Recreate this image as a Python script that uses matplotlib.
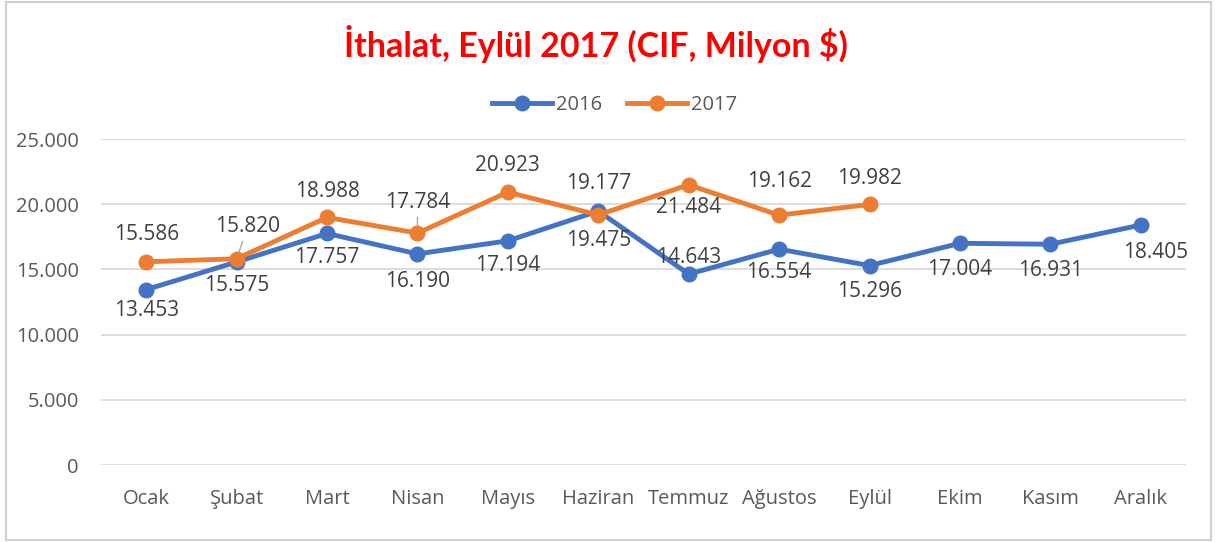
import matplotlib.pyplot as plt
from matplotlib.patches import Rectangle

# veri
aylar = ['Ocak', 'Şubat', 'Mart', 'Nisan', 'Mayıs', 'Haziran', 'Temmuz',
         'Ağustos', 'Eylül', 'Ekim', 'Kasım', 'Aralık']
ithalat_2016 = [13453, 15575, 17757, 16190, 17194, 19475, 14643, 16554,
                15296, 17004, 16931, 18405]
ithalat_2017 = [15586, 15820, 18988, 17784, 20923, 19177, 21484, 19162, 19982]
y_ticks = [0, 5000, 10000, 15000, 20000, 25000]

MAVI = '#4472C4'
TURUNCU = '#ED7D31'
METIN = '#404040'


def fmt(v):
    # Türkçe binlik ayırıcı
    return f'{v:,}'.replace(',', '.')


plt.rcParams['font.family'] = ['Open Sans', 'DejaVu Sans']

fig = plt.figure(figsize=(12.17, 5.42), dpi=100)
ax = fig.add_axes([0.083, 0.142, 0.8915, 0.6015])

# çerçeve
fig.patches.append(Rectangle((0.005, 0.004), 0.99, 0.992, transform=fig.transFigure,
                             fill=False, edgecolor='#D0D0D0', linewidth=1.5))

x16 = list(range(len(ithalat_2016)))
x17 = list(range(len(ithalat_2017)))
ax.plot(x16, ithalat_2016, color=MAVI, lw=3.5, marker='o', ms=10.5, label='2016', zorder=3)
ax.plot(x17, ithalat_2017, color=TURUNCU, lw=3.5, marker='o', ms=10.5, label='2017', zorder=4)

# etiket kaydırmaları (nokta cinsinden, dikey)
dy16 = [-15, -17, -17, -20, -18, -21, 12, -17, -19, -19, -19, -20]
dy17 = [20, 23, 19, 22, 19, 23, -16, 24, 19]
dx16 = {11: 11}
dx17 = {1: 8}
leader = {1, 3}

for i, v in enumerate(ithalat_2016):
    ax.annotate(fmt(v), (i, v), xytext=(dx16.get(i, 0), dy16[i]), textcoords='offset points',
                ha='center', va='center', fontsize=15, color=METIN, zorder=6)
for i, v in enumerate(ithalat_2017):
    arrow = dict(arrowstyle='-', color='#A6A6A6', lw=1, shrinkA=1, shrinkB=5) if i in leader else None
    ax.annotate(fmt(v), (i, v), xytext=(dx17.get(i, 0), dy17[i]), textcoords='offset points',
                ha='center', va='center', fontsize=15, color=METIN, zorder=6,
                arrowprops=arrow)

ax.set_xlim(-0.5, len(aylar) - 0.5)
ax.set_ylim(0, 25000)
ax.set_xticks(x16)
ax.set_xticklabels(aylar)
ax.set_yticks(y_ticks)
ax.set_yticklabels([fmt(t) for t in y_ticks])
ax.tick_params(axis='both', length=0, labelsize=14.5, colors='#595959')
ax.tick_params(axis='x', pad=17)
ax.tick_params(axis='y', pad=16)
ax.grid(axis='y', color='#D9D9D9', lw=1.3)
ax.set_axisbelow(True)
for s in ax.spines.values():
    s.set_visible(False)

fig.text(0.49, 0.918, 'İthalat, Eylül 2017 (CIF, Milyon $)', ha='center', va='center',
         fontsize=24.5, fontweight='bold', color='#FF0000', family=['Lato', 'DejaVu Sans'])

fig.legend(loc='center', bbox_to_anchor=(0.505, 0.806), ncol=2, frameon=False,
           fontsize=14.5, labelcolor='#595959', handlelength=3, columnspacing=1.2,
           handletextpad=0.2)

fig.savefig('out.png', dpi=100)
